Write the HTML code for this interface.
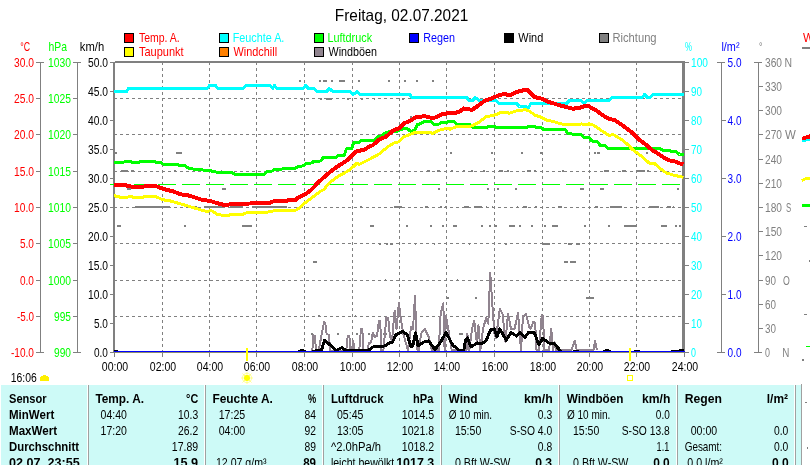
<!DOCTYPE html><html><head><meta charset="utf-8"><title>Wetter</title><style>html,body{margin:0;padding:0;background:#fff;overflow:hidden}svg{display:block;will-change:transform;font-family:"Liberation Sans",sans-serif}</style></head><body>
<svg width="810" height="465" viewBox="0 0 810 465">
<rect width="810" height="465" fill="#fff"/>
<g shape-rendering="crispEdges">
<path d="M162.5 62V352M209.5 62V352M256.5 62V352M304.5 62V352M352.5 62V352M399.5 62V352M446.5 62V352M494.5 62V352M542.5 62V352M589.5 62V352M636.5 62V352M114 98.5H684M114 134.5H684M114 171.5H684M114 207.5H684M114 243.5H684M114 280.5H684M114 316.5H684" stroke="#808080" stroke-width="1" stroke-dasharray="3 3" fill="none"/>
<path d="M114.5 352V357M162.5 352V357M209.5 352V357M256.5 352V357M304.5 352V357M352.5 352V357M399.5 352V357M446.5 352V357M494.5 352V357M542.5 352V357M589.5 352V357M636.5 352V357M684.5 352V357" stroke="#808080" stroke-width="1" fill="none"/>
<rect x="113" y="62" width="2" height="291" fill="#808080"/>
<rect x="115" y="61" width="570" height="2" fill="#808080"/>
<rect x="682" y="62" width="3" height="289" fill="#808080"/>
<path d="M299 80h2v2h-2zM319 80h2v2h-2zM323 80h4v2h-4zM331 80h2v2h-2zM339 80h6v2h-6zM358 80h2v2h-2zM388 80h2v2h-2zM404 80h2v2h-2zM416 80h2v2h-2zM432 80h2v2h-2zM301 98h2v2h-2zM320 98h2v2h-2zM326 98h6v2h-6zM347 98h2v2h-2zM361 98h2v2h-2zM374 98h1v2h-1zM402 98h2v2h-2zM410 116h2v2h-2zM115 152h2v2h-2zM176 152h6v2h-6zM450 152h2v2h-2zM491 152h2v2h-2zM521 152h2v2h-2zM540 152h2v2h-2zM594 152h2v2h-2zM597 152h3v2h-3zM646 152h2v2h-2zM121 170h7v2h-7zM131 170h3v2h-3zM174 170h2v2h-2zM199 170h2v2h-2zM221 170h1v2h-1zM427 170h3v2h-3zM437 170h3v2h-3zM451 170h2v2h-2zM463 170h2v2h-2zM471 170h2v2h-2zM483 170h2v2h-2zM499 170h4v2h-4zM507 170h2v2h-2zM527 170h4v2h-4zM534 170h2v2h-2zM562 170h2v2h-2zM604 170h5v2h-5zM622 170h4v2h-4zM636 170h9v2h-9zM647 170h2v2h-2zM127 188h4v2h-4zM222 188h4v2h-4zM438 188h2v2h-2zM487 188h2v2h-2zM497 188h2v2h-2zM515 188h2v2h-2zM580 188h4v2h-4zM600 188h4v2h-4zM677 188h2v2h-2zM135 206h35v2h-35zM186 206h11v2h-11zM204 206h21v2h-21zM230 206h13v2h-13zM252 206h35v2h-35zM360 206h2v2h-2zM394 206h8v2h-8zM425 206h3v2h-3zM440 206h2v2h-2zM445 206h1v2h-1zM464 206h5v2h-5zM474 206h8v2h-8zM486 206h1v2h-1zM492 206h1v2h-1zM517 206h1v2h-1zM523 206h4v2h-4zM535 206h2v2h-2zM558 206h4v2h-4zM595 206h3v2h-3zM610 206h12v2h-12zM649 206h10v2h-10zM667 206h4v2h-4zM673 206h1v2h-1zM117 225h4v2h-4zM184 225h2v2h-2zM242 225h10v2h-10zM352 225h1v2h-1zM370 225h4v2h-4zM406 225h2v2h-2zM430 225h2v2h-2zM442 225h2v2h-2zM453 225h4v2h-4zM481 225h2v2h-2zM489 225h2v2h-2zM495 225h2v2h-2zM509 225h6v2h-6zM519 225h2v2h-2zM531 225h2v2h-2zM544 225h2v2h-2zM552 225h6v2h-6zM584 225h2v2h-2zM608 225h2v2h-2zM624 225h13v2h-13zM661 225h6v2h-6zM675 225h2v2h-2zM679 225h2v2h-2zM379 243h2v2h-2zM386 243h2v2h-2zM390 243h3v2h-3zM415 243h1v2h-1zM434 243h1v2h-1zM469 243h1v2h-1zM505 243h2v2h-2zM543 243h7v2h-7zM568 243h4v2h-4zM576 243h4v2h-4zM313 261h4v2h-4zM564 261h4v2h-4zM570 261h6v2h-6zM385 279h1v2h-1zM457 279h1v2h-1zM447 297h2v2h-2zM475 297h2v2h-2zM586 297h8v2h-8zM318 315h2v2h-2zM355 315h1v2h-1zM311 333h2v2h-2zM337 333h2v2h-2zM356 333h2v2h-2zM368 333h2v2h-2zM376 333h2v2h-2zM383 333h1v2h-1zM386 333h1v2h-1zM459 333h4v2h-4z" fill="#808080"/>
<path d="M110 184.5H684" stroke="#00ff00" stroke-width="1" stroke-dasharray="18 6" fill="none"/>
<polyline points="312.3,351 313.5,335.2 315,335.8 316,351 318.5,351 324,322.2 325.2,322.8 326.5,333.3 329,335.2 330.2,351 346.2,351 347.8,335.8 349.3,335.8 350.6,351 352,351 353,340.7 354.9,351 359.2,351 361,328.4 362.3,329 363.5,351 367.2,351 369,342.6 371,342.6 372.8,332.7 374.6,337 377,335.8 379,320.4 380.2,321 381.4,351 383.3,351 386.4,317.3 388.2,317.9 390,337 392,340.7 394.6,310.6 396.5,329 398.9,303.2 401.3,321.7 403.5,334.7 408,350.4 411,327.3 413,329 415,295.8 416.9,349.5 419,350.4 421,333.7 424.8,329 428.5,336.5 432,350.4 438.7,350.4 440.6,314.3 443.3,303.2 444.6,350.4 446,316 448.9,332.8 451.7,350.4 466.5,350.4 467.4,333.7 469.3,350.4 472,329 474.3,320.8 476.7,342 478.5,325.4 480.4,350.4 483,329 486,318 488.3,323.6 490.2,272.6 492.4,305 494.3,332.8 496,338.4 499.8,308.7 502.6,314.3 505.4,342 508,313.4 511,329 514.6,329 518,312.4 521,350.4 523,316 526,314.3 529.4,327.3 530.6,329 533.3,321.7 535.2,323.6 536.5,350.4 538.9,350.4 541.7,315.2 543,316 544.4,350.4 549,350.4 551.3,329 553,350.4 554.6,342 556.5,350.4 571.3,350.4 574.6,340.6 576.9,350.4 593.5,350.4 595,340.6 597,350.4" fill="none" stroke="#90848f" stroke-width="2" stroke-linejoin="round"/>
<polyline points="312,351.5 321.5,350.2 324.6,340.1 336.4,350.5 342,347.4 345.6,350.5 356.7,350 366.6,350.6 369,349.8 374,346.3 381.4,347 386.4,345 390,342.6 392.5,342 396,334.7 402.6,331.3 407.2,334.7 411,346.7 412.8,345.8 415.6,332.8 418,345.8 424,342 428.5,341 435,349.5 440.6,342 446,332.4 452.6,344.9 459,350.3 463.7,350.3 465.6,340.2 467.4,338 471,346.7 477.6,343 481.3,344 486,341 490.6,330 494.3,329 497,336.5 499.8,329 506.3,340.2 511,332.4 516.5,336 520,332.8 524.8,337.4 528.5,332.4 534.3,332.4 538.9,344.9 542.6,338.4 549,343 554.6,344 561,351.5" fill="none" stroke="#000" stroke-width="3" stroke-linejoin="round"/>
<path d="M114 350h4v1h-4zM298 350h8v1h-8zM300 349h4v1h-4zM573 350h6v1h-6zM603 350h8v1h-8zM605 349h4v1h-4zM634 350h6v1h-6zM671 350h13v1h-13zM679 349h5v1h-5z" fill="#000"/>
<rect x="114" y="351" width="571" height="1" fill="#0000ff"/><rect x="114" y="352" width="570" height="1" fill="#8c8c70"/>
<polyline points="114,162.9 123,162.5 125.7,161.2 130.4,161.2 133,162.9 137.8,162.9 140.6,161.6 154.4,161.6 157.2,162.9 161,162.9 163.7,164.4 177.6,164.4 180.4,165.9 185,165.9 188.7,168.4 193.3,169 197,169.6 202.6,169.9 206.3,170.9 211,170.9 214.6,171.8 219.3,172.7 232.2,172.7 236,174.6 263.9,174.6 266.7,171.8 271.3,171.4 274,169.9 280.6,169.6 283.3,168.4 295.4,168.4 298,166.6 302.8,165.9 306.5,163.4 312,162.9 314,161 320.4,161 323,157.9 335.2,157.9 338,155.5 344.4,155.1 346.5,148.8 351.7,148.3 353.6,142.7 359.2,142.2 361,140.5 375,140 377.5,136.7 381.9,135.8 385,133 389.3,131.7 397.3,131.1 402.8,128.9 407.8,128.9 410.2,131.1 414.6,130.9 417,124.9 419.7,124 424.6,121.2 430.8,121.2 434.5,124.6 438.2,124.6 441.3,122.4 446.9,122.2 449.3,121.2 454.3,121.5 456.7,124.6 470.3,124.6 472.8,126.7 473.5,127.8 486.2,127.8 488.6,126.5 494.8,126.5 496.7,127.8 526.3,127.8 528,126.5 534.3,126.5 536.2,127.8 541.7,127.8 543.6,129.6 565.2,129.6 567.8,133.1 573.3,134.3 580.7,134.3 583.5,137.3 589,137.7 591.9,141 597.4,141.8 600,145.3 604.8,145.5 607.9,148.7 660.4,148.7 662.8,150.4 669.6,150.7 672.4,151.6 676.4,151.6 679.5,154.5 683.5,154.5" fill="none" stroke="#00ff00" stroke-width="3" stroke-linejoin="round"/>
<polyline points="114,91.5 126.5,91.5 128.5,88.5 207,88.5 209.5,85.5 215.4,85.5 217.9,88.5 243.2,88.5 245.7,85.5 270.4,85.5 272.6,88.5 274.4,85.5 276.8,88.5 303,88.5 305.5,85.5 308.6,88.5 314,88.5 317,91.5 326.5,91.5 329.3,88.5 332.7,91.5 350,91.5 353,94.5 357.3,91.5 360.2,94.5 409.6,94.5 412,97.5 466.6,97.5 469,100.5 472.8,100.5 475.2,97.5 479.6,100.5 496,100.5 499,103.5 516.4,103.5 519.5,106.5 525.7,106.5 528,108.5 530.9,103.5 566.4,103.5 569.5,100.5 580.7,100.5 584,103.5 587.2,100.5 608.5,100.5 612.2,97.5 641.9,97.5 644.6,94.5 647.4,97.5 650.2,97.5 653,94.5 683.5,94.5" fill="none" stroke="#00ffff" stroke-width="3" stroke-linejoin="round"/>
<polyline points="114,195.6 121,197.4 126.7,197.4 130.4,196.5 134,197.4 142.4,197.4 145.2,196.5 155.4,196.5 162.8,199.7 171,201.1 182.2,204.3 191.5,207.1 202.6,210.4 207.2,211.7 211,210.4 217.4,214.4 225.7,215.8 230.4,214.8 241.5,214.8 246,213 260,212.6 266.7,212.3 274,210.8 294.4,210.8 299,208.4 305.6,202.4 313,196.9 320.4,191.4 324,189.4 329.6,182.6 338,176.4 348,171 353.7,166.4 357,163 359.3,164.4 368.5,159.8 379.6,153.7 381.9,151.6 388,146.6 394.2,142.9 399,141.7 404,136.8 409,134.9 415.2,132.4 430,132.2 432.4,133.4 439.8,130 447.2,128.2 450,129.3 455.6,126.9 471.3,126 479,122.3 486.2,116.8 496,114.7 501,112.4 509.6,113.1 515.8,111 525.7,109.7 529.4,111.2 535.6,115.5 540.5,116.8 545.4,119.8 551.6,121.1 557.8,122.9 564,124.5 577,124.8 581.7,123.9 584.4,124.8 589,123.9 593.7,125.2 601,130.4 609.4,135.6 613,134.4 622.4,140 628.9,145.6 632.6,149.7 641.9,156.4 649.3,163.2 654.2,163.2 659,167.6 666.5,173.1 674,175.2 683.5,177.4" fill="none" stroke="#ffff00" stroke-width="3" stroke-linejoin="round"/>
<polyline points="114,184.6 126.7,185.5 132.2,186.8 143.3,186.8 146,185.9 155.4,185.9 163.7,189 173,191.4 180.4,194.2 189.6,195.7 200.7,199.4 211,201.2 219.3,203.8 225.7,205.3 232.2,203.8 250,203.5 268.5,203.1 274,201.2 295.4,200.1 299,197 305.6,194.2 311,190.1 318.5,182.2 327.8,173.8 337,166.8 346.3,160.9 356.3,151.5 364.8,149.4 367,148 373.2,144.9 379.4,139.3 385.6,136.9 393,130.7 399,128.2 404,123.3 410.2,120.8 415.2,117.5 421.4,116.7 423.8,115.9 432,118 435.7,117.4 443,113.7 454.3,113.1 459.2,111.9 463.5,108.5 472.2,109.8 479,105.1 485,100.5 492.3,98.3 498.5,95.3 504.7,94 509.6,95.3 515.8,92.2 523.2,90.3 527.5,90.1 534.3,97.1 540.5,98.3 549,102 559,105.1 567.8,107.4 572.4,108.6 578.9,108.3 583.5,106.4 589,106.4 595.6,110.1 604.8,116.6 609.4,119 614,119.8 621.5,124.6 630.7,131.4 638,138.8 647.4,145.7 651.7,149.8 657.9,153.5 664,157.8 669,160.3 675.2,161.5 678.9,163.3 683.5,164" fill="none" stroke="#ff0000" stroke-width="4" stroke-linejoin="round"/>
<rect x="246" y="348" width="2" height="13" fill="#ffff00"/><rect x="629" y="348" width="2" height="13" fill="#ffff00"/>
<path d="M110 62.5H113M110 91.5H113M110 120.5H113M110 149.5H113M110 178.5H113M110 207.5H113M110 236.5H113M110 265.5H113M110 294.5H113M110 323.5H113M110 352.5H113M685 62.5H689M685 91.5H689M685 120.5H689M685 149.5H689M685 178.5H689M685 207.5H689M685 236.5H689M685 265.5H689M685 294.5H689M685 323.5H689M685 352.5H689M40.5 62V353M36 62.5H44M36 352.5H44M36 98.5H40M36 134.5H40M36 171.5H40M36 207.5H40M36 243.5H40M36 280.5H40M36 316.5H40M77.5 62V353M73 62.5H81M73 352.5H81M73 98.5H77M73 134.5H77M73 171.5H77M73 207.5H77M73 243.5H77M73 280.5H77M73 316.5H77M721.5 62V353M717 62.5H725M717 352.5H725M722 120.5H726M722 178.5H726M722 236.5H726M722 294.5H726M758.5 62V353M754 62.5H762M754 352.5H762M759 328.5H763M759 304.5H763M759 280.5H763M759 255.5H763M759 231.5H763M759 207.5H763M759 183.5H763M759 159.5H763M759 134.5H763M759 110.5H763M759 86.5H763" stroke="#808080" stroke-width="1" fill="none"/>
<rect x="124.5" y="33.5" width="9" height="9" fill="#ff0000" stroke="#000" stroke-width="1"/>
<rect x="219.5" y="33.5" width="9" height="9" fill="#00ffff" stroke="#000" stroke-width="1"/>
<rect x="314.5" y="33.5" width="9" height="9" fill="#00ff00" stroke="#000" stroke-width="1"/>
<rect x="409.5" y="33.5" width="9" height="9" fill="#0000ff" stroke="#000" stroke-width="1"/>
<rect x="504.5" y="33.5" width="9" height="9" fill="#000" stroke="#000" stroke-width="1"/>
<rect x="599.5" y="33.5" width="9" height="9" fill="#808080" stroke="#000" stroke-width="1"/>
<rect x="124.5" y="47.5" width="9" height="9" fill="#ffff00" stroke="#000" stroke-width="1"/>
<rect x="219.5" y="47.5" width="9" height="9" fill="#ff8000" stroke="#000" stroke-width="1"/>
<rect x="314.5" y="47.5" width="9" height="9" fill="#90848f" stroke="#000" stroke-width="1"/>
<rect x="1" y="385" width="800" height="80" fill="#cdfaf7"/>
<path d="M87.5 385V465M204.5 385V465M322.5 385V465M440.5 385V465M558.5 385V465M676.5 385V465M794.5 385V465" stroke="#fff" stroke-width="1" fill="none"/>
<path d="M88.5 385V465M205.5 385V465M323.5 385V465M441.5 385V465M559.5 385V465M677.5 385V465M795.5 385V465M801.5 384V465" stroke="#a0a0a0" stroke-width="1" fill="none"/>
<rect x="802" y="47" width="8" height="2" fill="#808080"/>
<polyline points="802,140.5 806,140 810,139" fill="none" stroke="#00ffff" stroke-width="3"/>
<polyline points="802,138.8 805,137.8 808,136.8 811,136.2" fill="none" stroke="#ff0000" stroke-width="4"/>
<polyline points="802,180.5 804,179.5 806,178.5 811,178.5" fill="none" stroke="#ffff00" stroke-width="3"/>
<rect x="802" y="204" width="8" height="3" fill="#00ff00"/>
<rect x="806" y="346" width="4" height="1" fill="#00ff00"/>
<path d="M804 226h3v1h-3zM809 260h1v2h-1zM804 314h3v1h-3zM802 359h2v2h-2zM805 402h2v1h-2zM807 447h1v2h-1z" fill="#808080"/>
<rect x="627.5" y="375.5" width="5" height="5" fill="none" stroke="#ffff00" stroke-width="1"/>
</g>
<g stroke="#ffff90" stroke-width="1" fill="none"><path d="M247 372v12M241 378h12M242.5 373.5l9 9M251.5 373.5l-9 9"/><circle cx="247" cy="378" r="4.6"/></g><rect x="244" y="375" width="6" height="6" rx="2.4" fill="#ffff00"/>
<path d="M40 381v-4h1v-1h2v-1h3v1h2v1h1v4z" fill="#fff000" shape-rendering="crispEdges"/>
<g><text transform="translate(334.84 21) scale(0.9625 1)" fill="#000" font-size="16">Freitag, 02.07.2021</text><text transform="translate(139.00 42) scale(0.8393 1)" fill="#ff0000" font-size="12.5">Temp. A.</text><text transform="translate(139.00 56) scale(0.8818 1)" fill="#ff0000" font-size="12.5">Taupunkt</text><text transform="translate(232.63 42) scale(0.8664 1)" fill="#00ffff" font-size="12.5">Feuchte A.</text><text transform="translate(233.50 56) scale(0.8713 1)" fill="#ff0000" font-size="12.5">Windchill</text><text transform="translate(327.53 42) scale(0.8678 1)" fill="#00ff00" font-size="12.5">Luftdruck</text><text transform="translate(328.50 56) scale(0.8609 1)" fill="#000" font-size="12.5">Windböen</text><text transform="translate(423.14 42) scale(0.8639 1)" fill="#0000ff" font-size="12.5">Regen</text><text transform="translate(518.30 42) scale(0.8764 1)" fill="#000" font-size="12.5">Wind</text><text transform="translate(612.40 42) scale(0.8970 1)" fill="#808080" font-size="12.5">Richtung</text><text transform="translate(20.30 51) scale(0.7001 1)" fill="#ff0000" font-size="12.5">°C</text><text transform="translate(48.50 51) scale(0.8300 1)" fill="#00ff00" font-size="12.5">hPa</text><text transform="translate(79.80 51) scale(0.8992 1)" fill="#000" font-size="12.5">km/h</text><text transform="translate(685.10 51) scale(0.6273 1)" fill="#00ffff" font-size="12.5">%</text><text transform="translate(721.40 51) scale(0.8711 1)" fill="#0000ff" font-size="12.5">l/m²</text><text transform="translate(759.00 51) scale(0.6800 1)" fill="#808080" font-size="12.5">°</text><text transform="translate(14.00 67) scale(0.8205 1)" fill="#ff0000" font-size="12.5">30.0</text><text transform="translate(14.00 103) scale(0.8205 1)" fill="#ff0000" font-size="12.5">25.0</text><text transform="translate(14.00 139) scale(0.8205 1)" fill="#ff0000" font-size="12.5">20.0</text><text transform="translate(14.00 176) scale(0.8205 1)" fill="#ff0000" font-size="12.5">15.0</text><text transform="translate(14.00 212) scale(0.8205 1)" fill="#ff0000" font-size="12.5">10.0</text><text transform="translate(20.00 248) scale(0.8035 1)" fill="#ff0000" font-size="12.5">5.0</text><text transform="translate(20.00 285) scale(0.8035 1)" fill="#ff0000" font-size="12.5">0.0</text><text transform="translate(17.00 321) scale(0.7875 1)" fill="#ff0000" font-size="12.5">-5.0</text><text transform="translate(11.00 357) scale(0.8059 1)" fill="#ff0000" font-size="12.5">-10.0</text><text transform="translate(48.00 67) scale(0.8257 1)" fill="#00ff00" font-size="12.5">1030</text><text transform="translate(48.00 103) scale(0.8257 1)" fill="#00ff00" font-size="12.5">1025</text><text transform="translate(48.00 139) scale(0.8257 1)" fill="#00ff00" font-size="12.5">1020</text><text transform="translate(48.00 176) scale(0.8257 1)" fill="#00ff00" font-size="12.5">1015</text><text transform="translate(48.00 212) scale(0.8257 1)" fill="#00ff00" font-size="12.5">1010</text><text transform="translate(48.00 248) scale(0.8257 1)" fill="#00ff00" font-size="12.5">1005</text><text transform="translate(48.00 285) scale(0.8257 1)" fill="#00ff00" font-size="12.5">1000</text><text transform="translate(54.00 321) scale(0.8132 1)" fill="#00ff00" font-size="12.5">995</text><text transform="translate(54.00 357) scale(0.8132 1)" fill="#00ff00" font-size="12.5">990</text><text transform="translate(88.00 67) scale(0.8205 1)" fill="#000" font-size="12.5">50.0</text><text transform="translate(88.00 96) scale(0.8205 1)" fill="#000" font-size="12.5">45.0</text><text transform="translate(88.00 125) scale(0.8205 1)" fill="#000" font-size="12.5">40.0</text><text transform="translate(88.00 154) scale(0.8205 1)" fill="#000" font-size="12.5">35.0</text><text transform="translate(88.00 183) scale(0.8205 1)" fill="#000" font-size="12.5">30.0</text><text transform="translate(88.00 212) scale(0.8205 1)" fill="#000" font-size="12.5">25.0</text><text transform="translate(88.00 241) scale(0.8205 1)" fill="#000" font-size="12.5">20.0</text><text transform="translate(88.00 270) scale(0.8205 1)" fill="#000" font-size="12.5">15.0</text><text transform="translate(88.00 299) scale(0.8205 1)" fill="#000" font-size="12.5">10.0</text><text transform="translate(94.00 328) scale(0.8035 1)" fill="#000" font-size="12.5">5.0</text><text transform="translate(94.00 357) scale(0.8035 1)" fill="#000" font-size="12.5">0.0</text><text transform="translate(691.00 67) scale(0.8132 1)" fill="#00ffff" font-size="12.5">100</text><text transform="translate(691.00 96) scale(0.7884 1)" fill="#00ffff" font-size="12.5">90</text><text transform="translate(691.00 125) scale(0.7884 1)" fill="#00ffff" font-size="12.5">80</text><text transform="translate(691.00 154) scale(0.7884 1)" fill="#00ffff" font-size="12.5">70</text><text transform="translate(691.00 183) scale(0.7884 1)" fill="#00ffff" font-size="12.5">60</text><text transform="translate(691.00 212) scale(0.7884 1)" fill="#00ffff" font-size="12.5">50</text><text transform="translate(691.00 241) scale(0.7884 1)" fill="#00ffff" font-size="12.5">40</text><text transform="translate(691.00 270) scale(0.7884 1)" fill="#00ffff" font-size="12.5">30</text><text transform="translate(691.00 299) scale(0.7884 1)" fill="#00ffff" font-size="12.5">20</text><text transform="translate(691.00 328) scale(0.7884 1)" fill="#00ffff" font-size="12.5">10</text><text transform="translate(691.00 357) scale(0.7143 1)" fill="#00ffff" font-size="12.5">0</text><text transform="translate(727.60 67) scale(0.8035 1)" fill="#0000ff" font-size="12.5">5.0</text><text transform="translate(727.60 125) scale(0.8035 1)" fill="#0000ff" font-size="12.5">4.0</text><text transform="translate(727.60 183) scale(0.8035 1)" fill="#0000ff" font-size="12.5">3.0</text><text transform="translate(727.60 241) scale(0.8035 1)" fill="#0000ff" font-size="12.5">2.0</text><text transform="translate(727.60 299) scale(0.8035 1)" fill="#0000ff" font-size="12.5">1.0</text><text transform="translate(727.60 357) scale(0.8035 1)" fill="#0000ff" font-size="12.5">0.0</text><text transform="translate(765.00 67) scale(0.8132 1)" fill="#808080" font-size="12.5">360</text><text transform="translate(784.46 67) scale(0.8375 1)" fill="#808080" font-size="12.5">N</text><text transform="translate(765.00 91) scale(0.8132 1)" fill="#808080" font-size="12.5">330</text><text transform="translate(765.00 115) scale(0.8132 1)" fill="#808080" font-size="12.5">300</text><text transform="translate(765.00 139) scale(0.8132 1)" fill="#808080" font-size="12.5">270</text><text transform="translate(785.00 139) scale(0.9167 1)" fill="#808080" font-size="12.5">W</text><text transform="translate(765.00 164) scale(0.8132 1)" fill="#808080" font-size="12.5">240</text><text transform="translate(765.00 188) scale(0.8132 1)" fill="#808080" font-size="12.5">210</text><text transform="translate(765.00 212) scale(0.8132 1)" fill="#808080" font-size="12.5">180</text><text transform="translate(786.00 212) scale(0.6250 1)" fill="#808080" font-size="12.5">S</text><text transform="translate(765.00 236) scale(0.8132 1)" fill="#808080" font-size="12.5">150</text><text transform="translate(765.00 260) scale(0.8132 1)" fill="#808080" font-size="12.5">120</text><text transform="translate(765.00 285) scale(0.7884 1)" fill="#808080" font-size="12.5">90</text><text transform="translate(783.00 285) scale(0.7000 1)" fill="#808080" font-size="12.5">O</text><text transform="translate(765.00 309) scale(0.7884 1)" fill="#808080" font-size="12.5">60</text><text transform="translate(765.00 333) scale(0.7884 1)" fill="#808080" font-size="12.5">30</text><text transform="translate(765.00 357) scale(0.7143 1)" fill="#808080" font-size="12.5">0</text><text transform="translate(782.21 357) scale(0.7875 1)" fill="#808080" font-size="12.5">N</text><text transform="translate(101.80 371) scale(0.8427 1)" fill="#000" font-size="12.5">00:00</text><text transform="translate(149.80 371) scale(0.8427 1)" fill="#000" font-size="12.5">02:00</text><text transform="translate(196.80 371) scale(0.8427 1)" fill="#000" font-size="12.5">04:00</text><text transform="translate(243.80 371) scale(0.8427 1)" fill="#000" font-size="12.5">06:00</text><text transform="translate(291.80 371) scale(0.8427 1)" fill="#000" font-size="12.5">08:00</text><text transform="translate(339.80 371) scale(0.8427 1)" fill="#000" font-size="12.5">10:00</text><text transform="translate(386.80 371) scale(0.8427 1)" fill="#000" font-size="12.5">12:00</text><text transform="translate(433.80 371) scale(0.8427 1)" fill="#000" font-size="12.5">14:00</text><text transform="translate(481.80 371) scale(0.8427 1)" fill="#000" font-size="12.5">16:00</text><text transform="translate(529.80 371) scale(0.8427 1)" fill="#000" font-size="12.5">18:00</text><text transform="translate(576.80 371) scale(0.8427 1)" fill="#000" font-size="12.5">20:00</text><text transform="translate(623.80 371) scale(0.8427 1)" fill="#000" font-size="12.5">22:00</text><text transform="translate(671.80 371) scale(0.8427 1)" fill="#000" font-size="12.5">24:00</text><text transform="translate(10.70 382) scale(0.8331 1)" fill="#000" font-size="12.5">16:06</text><text transform="translate(803.00 42) scale(0.9167 1)" fill="#ff0000" font-size="12.5">W</text><text transform="translate(9.00 403) scale(0.8868 1)" fill="#000" font-size="12.5" font-weight="bold">Sensor</text><text transform="translate(9.00 419) scale(0.9217 1)" fill="#000" font-size="12.5" font-weight="bold">MinWert</text><text transform="translate(9.00 435) scale(0.9278 1)" fill="#000" font-size="12.5" font-weight="bold">MaxWert</text><text transform="translate(9.00 451) scale(0.9086 1)" fill="#000" font-size="12.5" font-weight="bold">Durchschnitt</text><text transform="translate(9.00 467) scale(1.0079 1)" fill="#000" font-size="12.5" font-weight="bold">02.07. 23:55</text><text transform="translate(95.40 403) scale(0.9478 1)" fill="#000" font-size="12.5" font-weight="bold">Temp. A.</text><text transform="translate(186.10 403) scale(0.8644 1)" fill="#000" font-size="12.5" font-weight="bold">°C</text><text transform="translate(100.60 419) scale(0.8427 1)" fill="#000" font-size="12.5">04:40</text><text transform="translate(100.60 435) scale(0.8427 1)" fill="#000" font-size="12.5">17:20</text><text transform="translate(178.00 419) scale(0.8287 1)" fill="#000" font-size="12.5">10.3</text><text transform="translate(178.00 435) scale(0.8287 1)" fill="#000" font-size="12.5">26.2</text><text transform="translate(171.80 451) scale(0.8427 1)" fill="#000" font-size="12.5">17.89</text><text transform="translate(173.50 467) scale(1.0133 1)" fill="#000" font-size="12.5" font-weight="bold">15.9</text><text transform="translate(212.40 403) scale(0.9539 1)" fill="#000" font-size="12.5" font-weight="bold">Feuchte A.</text><text transform="translate(308.00 403) scale(0.7364 1)" fill="#000" font-size="12.5" font-weight="bold">%</text><text transform="translate(218.70 419) scale(0.8491 1)" fill="#000" font-size="12.5">17:25</text><text transform="translate(218.70 435) scale(0.8491 1)" fill="#000" font-size="12.5">04:00</text><text transform="translate(304.60 419) scale(0.8243 1)" fill="#000" font-size="12.5">84</text><text transform="translate(304.60 435) scale(0.8243 1)" fill="#000" font-size="12.5">92</text><text transform="translate(304.60 451) scale(0.8243 1)" fill="#000" font-size="12.5">89</text><text transform="translate(303.20 467) scale(0.9246 1)" fill="#000" font-size="12.5" font-weight="bold">89</text><text transform="translate(215.90 467) scale(0.8491 1)" fill="#000" font-size="12.5">12.07 g/m³</text><text transform="translate(330.90 403) scale(0.9136 1)" fill="#000" font-size="12.5" font-weight="bold">Luftdruck</text><text transform="translate(413.00 403) scale(0.8885 1)" fill="#000" font-size="12.5" font-weight="bold">hPa</text><text transform="translate(337.00 419) scale(0.8427 1)" fill="#000" font-size="12.5">05:45</text><text transform="translate(337.00 435) scale(0.8427 1)" fill="#000" font-size="12.5">13:05</text><text transform="translate(330.90 451) scale(0.8989 1)" fill="#000" font-size="12.5">^2.0hPa/h</text><text transform="translate(330.90 467) scale(0.8456 1)" fill="#000" font-size="12.5">leicht bewölkt</text><text transform="translate(401.80 419) scale(0.8490 1)" fill="#000" font-size="12.5">1014.5</text><text transform="translate(401.80 435) scale(0.8490 1)" fill="#000" font-size="12.5">1021.8</text><text transform="translate(401.80 451) scale(0.8490 1)" fill="#000" font-size="12.5">1018.2</text><text transform="translate(396.20 467) scale(0.9953 1)" fill="#000" font-size="12.5" font-weight="bold">1017.3</text><text transform="translate(448.50 403) scale(0.9565 1)" fill="#000" font-size="12.5" font-weight="bold">Wind</text><text transform="translate(524.00 403) scale(0.9881 1)" fill="#000" font-size="12.5" font-weight="bold">km/h</text><text transform="translate(448.80 419) scale(0.7987 1)" fill="#000" font-size="12.5">Ø 10 min.</text><text transform="translate(454.90 435) scale(0.8427 1)" fill="#000" font-size="12.5">15:50</text><text transform="translate(454.90 467) scale(0.8551 1)" fill="#000" font-size="12.5">0 Bft W-SW</text><text transform="translate(537.80 419) scale(0.8264 1)" fill="#000" font-size="12.5">0.3</text><text transform="translate(509.80 435) scale(0.8240 1)" fill="#000" font-size="12.5">S-SO 4.0</text><text transform="translate(537.80 451) scale(0.8264 1)" fill="#000" font-size="12.5">0.8</text><text transform="translate(535.20 467) scale(0.9756 1)" fill="#000" font-size="12.5" font-weight="bold">0.3</text><text transform="translate(566.80 403) scale(0.9404 1)" fill="#000" font-size="12.5" font-weight="bold">Windböen</text><text transform="translate(642.00 403) scale(0.9741 1)" fill="#000" font-size="12.5" font-weight="bold">km/h</text><text transform="translate(567.00 419) scale(0.8005 1)" fill="#000" font-size="12.5">Ø 10 min.</text><text transform="translate(573.00 435) scale(0.8395 1)" fill="#000" font-size="12.5">15:50</text><text transform="translate(573.00 467) scale(0.8521 1)" fill="#000" font-size="12.5">0 Bft W-SW</text><text transform="translate(655.80 419) scale(0.8035 1)" fill="#000" font-size="12.5">0.0</text><text transform="translate(621.70 435) scale(0.8235 1)" fill="#000" font-size="12.5">S-SO 13.8</text><text transform="translate(656.60 451) scale(0.7288 1)" fill="#000" font-size="12.5">1.1</text><text transform="translate(653.20 467) scale(0.9527 1)" fill="#000" font-size="12.5" font-weight="bold">0.0</text><text transform="translate(684.70 403) scale(0.9743 1)" fill="#000" font-size="12.5" font-weight="bold">Regen</text><text transform="translate(766.80 403) scale(0.9565 1)" fill="#000" font-size="12.5" font-weight="bold">l/m²</text><text transform="translate(690.70 435) scale(0.8459 1)" fill="#000" font-size="12.5">00:00</text><text transform="translate(684.70 451) scale(0.7934 1)" fill="#000" font-size="12.5">Gesamt:</text><text transform="translate(687.30 467) scale(0.8528 1)" fill="#000" font-size="12.5">0.0 l/m²</text><text transform="translate(773.90 435) scale(0.8264 1)" fill="#000" font-size="12.5">0.0</text><text transform="translate(773.90 451) scale(0.8264 1)" fill="#000" font-size="12.5">0.0</text><text transform="translate(772.00 467) scale(0.9641 1)" fill="#000" font-size="12.5" font-weight="bold">0.0</text></g>
</svg></body></html>
